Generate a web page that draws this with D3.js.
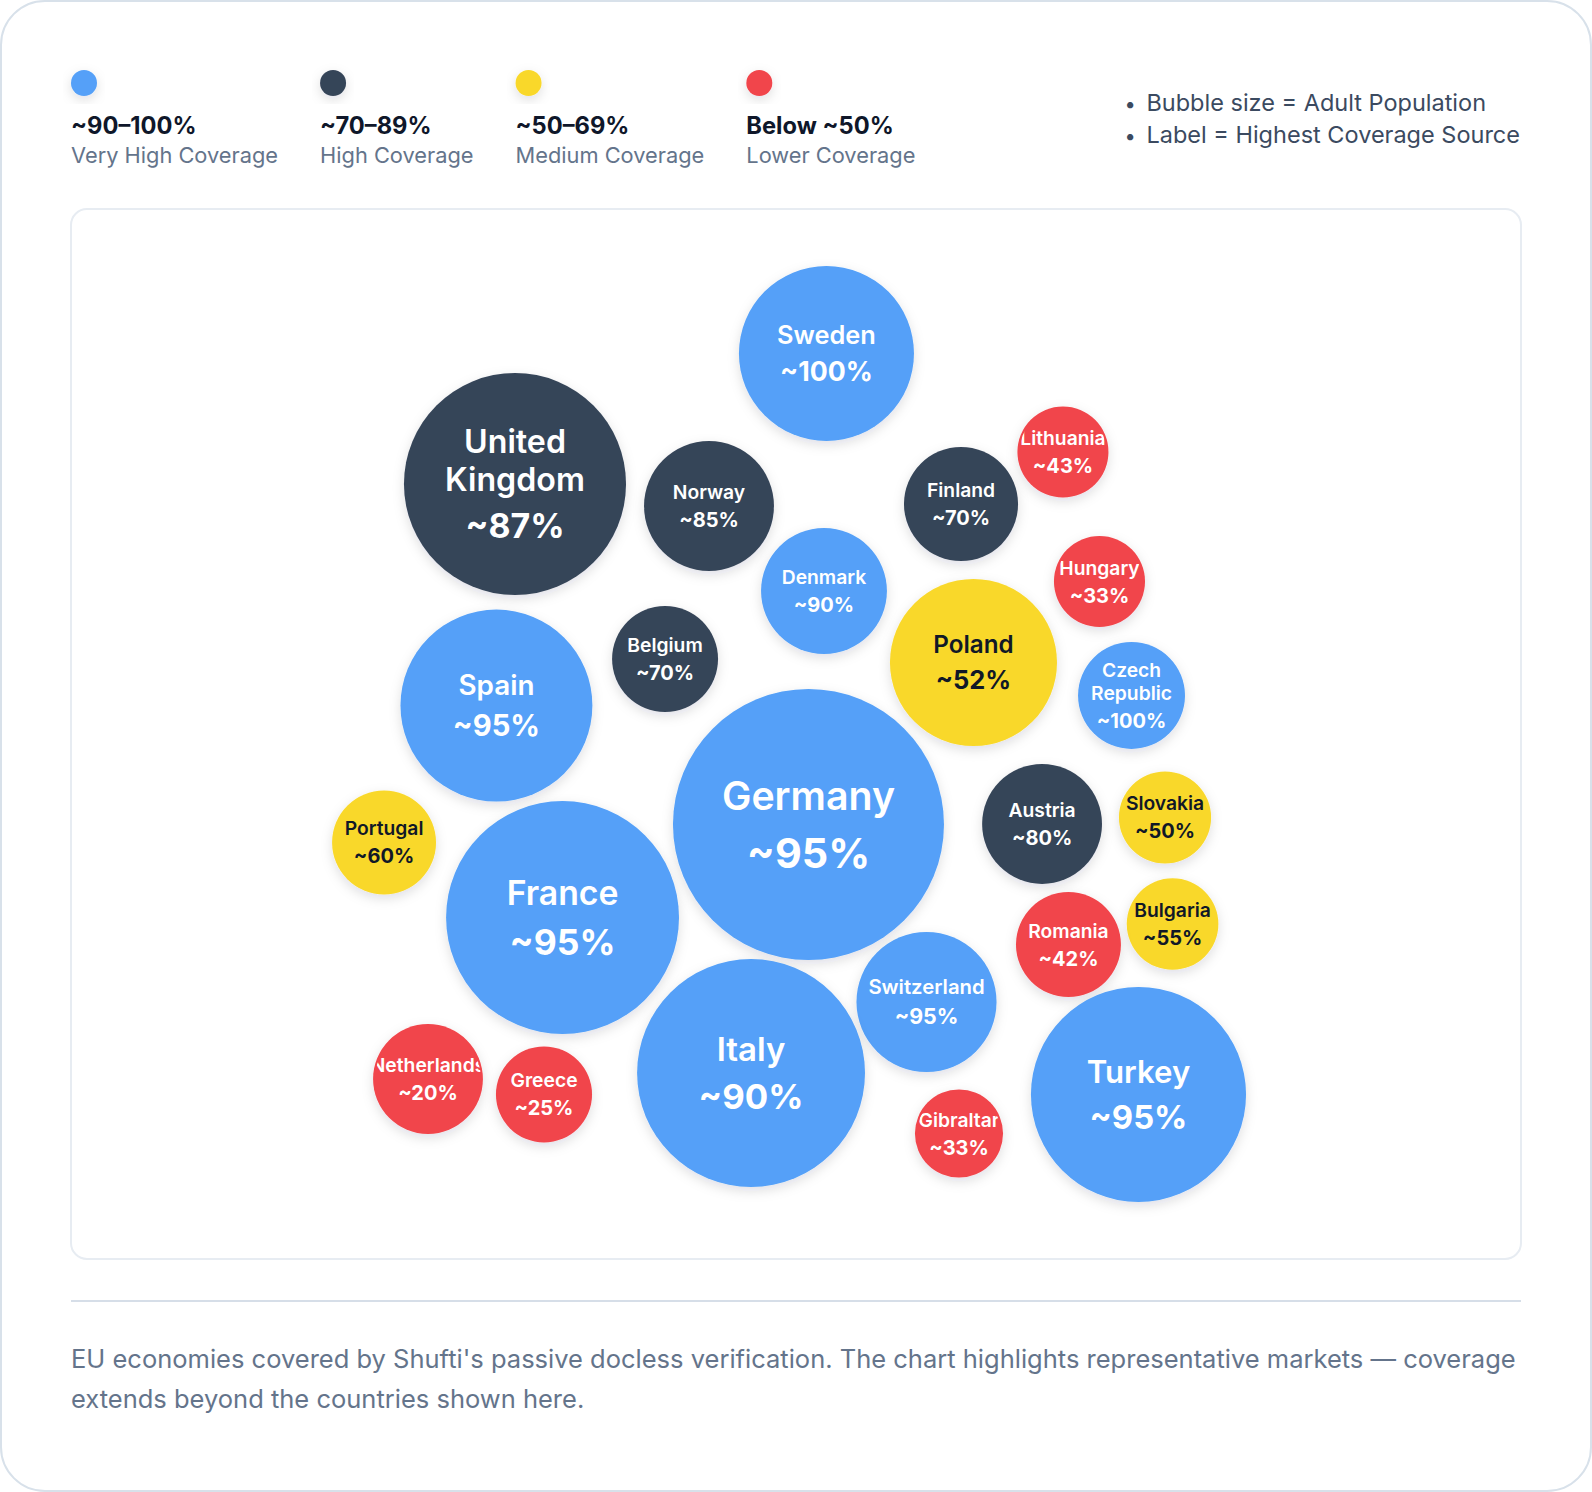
<!DOCTYPE html>
<html>
<head>
<meta charset="utf-8">
<script src="https://cdn.jsdelivr.net/npm/d3@7"></script>
<style>
  html, body { margin: 0; padding: 0; background: #ffffff; }
  svg { display: block; font-family: Inter, "Noto Sans", sans-serif; }
</style>
</head>
<body>
<svg id="chart" width="1592" height="1492"></svg>
<script>
// bubble data
const countries = ["Sweden", "United Kingdom", "Norway", "Denmark", "Finland", "Lithuania",
  "Hungary", "Poland", "Czech Republic", "Spain", "Belgium", "Germany", "Austria", "Slovakia",
  "Portugal", "France", "Bulgaria", "Romania", "Switzerland", "Italy", "Turkey",
  "Netherlands", "Greece", "Gibraltar"]
const coverage = [100, 87, 85, 90, 70, 43, 33, 52, 100, 95, 70, 95, 80, 50,
  60, 95, 55, 42, 95, 90, 95, 20, 25, 33]
// bubble size (adult population, as drawn)
const adultPop = [29.2, 47.0, 16.1, 15.1, 12.4, 7.9, 7.9, 26.6, 10.9, 35.1, 10.7, 70, 13.7, 8.1,
  10.3, 51.7, 8.0, 10.5, 18.7, 49.5, 44.1, 11.5, 8.8, 7.4]
// packed layout position, % of the plot panel
const posX = [52.10, 30.62, 44.00, 51.93, 61.38, 68.41, 70.93, 62.24, 73.14, 29.34, 40.97, 50.86,
  66.97, 75.45, 21.59, 33.90, 75.97, 68.79, 59.00, 46.90, 73.62, 24.62, 32.62, 61.24]
const posY = [13.76, 26.19, 28.29, 36.38, 28.10, 23.14, 35.48, 43.19, 46.33, 47.29, 42.86, 58.62,
  58.57, 57.95, 60.33, 67.48, 68.10, 70.05, 75.52, 82.29, 84.33, 82.86, 84.33, 88.05]

// legend
const tierRanges = ["~90–100%", "~70–89%", "~50–69%", "Below ~50%"]
const tierNames = ["Very High Coverage", "High Coverage", "Medium Coverage", "Lower Coverage"]
const tierColors = ["#54a0f8", "#364559", "#f9d82b", "#f1454b"]
const notes = ["Bubble size = Adult Population", "Label = Highest Coverage Source"]
const footer = "EU economies covered by Shufti's passive docless verification. The chart highlights representative markets — coverage extends beyond the countries shown here."

const W = 1592, H = 1492
const panel = {x: 71, y: 209, w: 1450, h: 1050}

const svg = d3.select("#chart")

const defs = svg.append("defs")
const shadow = defs.append("filter").attr("id", "shadow")
  .attr("x", "-30%").attr("y", "-30%").attr("width", "160%").attr("height", "160%")
shadow.append("feDropShadow")
  .attr("dx", 0).attr("dy", 4).attr("stdDeviation", 6)
  .attr("flood-color", "#0f172a").attr("flood-opacity", 0.13)

// card
svg.append("rect")
  .attr("x", 1).attr("y", 1).attr("width", W - 2).attr("height", H - 2)
  .attr("rx", 44)
  .attr("fill", "#ffffff").attr("stroke", "#d8e1ea").attr("stroke-width", 2)

// legend
var lx = 71
tierRanges.forEach(function(t, i) {
  const g = svg.append("g")
  g.append("circle")
    .attr("cx", lx + 13).attr("cy", 83).attr("r", 13)
    .attr("fill", tierColors[i]).attr("filter", "url(#shadow)")
  const t1 = g.append("text")
    .attr("x", lx).attr("y", 134)
    .attr("font-size", 23.7).attr("font-weight", 700).attr("fill", "#0f172a")
    .text(t)
  const t2 = g.append("text")
    .attr("x", lx).attr("y", 163)
    .attr("font-size", 21.8).attr("fill", "#64748b")
    .text(tierNames[i])
  const w = Math.max(t1.node().getComputedTextLength(), t2.node().getComputedTextLength())
  lx += w + 42
})

// notes on the right
const noteText = svg.append("g")
  .selectAll("text")
  .data(notes)
  .enter()
  .append("text")
  .attr("y", function(d, i) { return 111 + i * 32 })
  .attr("font-size", 23.5).attr("fill", "#3b4a60")
  .text(function(d) { return d })
var noteW = d3.max(noteText.nodes(), function(n) { return n.getComputedTextLength() })
noteText.attr("x", 1520 - noteW)
svg.append("g")
  .selectAll("text")
  .data(notes)
  .enter()
  .append("text")
  .attr("x", 1520 - noteW - 22)
  .attr("y", function(d, i) { return 111 + i * 32 })
  .attr("font-size", 20).attr("fill", "#3b4a60")
  .text("•")

// plot panel
svg.append("rect")
  .attr("x", panel.x).attr("y", panel.y).attr("width", panel.w).attr("height", panel.h)
  .attr("rx", 16)
  .attr("fill", "#ffffff").attr("stroke", "#e7ecf2").attr("stroke-width", 2)

const x = d3.scaleLinear().domain([0, 100]).range([panel.x, panel.x + panel.w])
const y = d3.scaleLinear().domain([0, 100]).range([panel.y, panel.y + panel.h])
const r = d3.scaleSqrt().domain([0, d3.max(adultPop)]).range([0, 135.5])
const color = d3.scaleThreshold().domain([50, 70, 90])
  .range([tierColors[3], tierColors[2], tierColors[1], tierColors[0]])

const data = d3.zip(countries, coverage, adultPop, posX, posY).map(function(d, i) {
  return {name: d[0], cov: d[1], pop: d[2], px: d[3], py: d[4], id: i}
})

const bubbles = svg.append("g")
  .selectAll("g")
  .data(data)
  .enter()
  .append("g")
  .attr("transform", function(d) { return "translate(" + x(d.px) + "," + y(d.py) + ")" })

bubbles.append("clipPath")
  .attr("id", function(d) { return "clip" + d.id })
  .append("circle")
  .attr("r", function(d) { return r(d.pop) - 2 })

bubbles.append("circle")
  .attr("r", function(d) { return r(d.pop) })
  .attr("fill", function(d) { return color(d.cov) })
  .attr("filter", "url(#shadow)")

bubbles.each(function(d) {
  const rad = r(d.pop)
  const nf = Math.max(19.3, rad * 0.29)
  const pf = Math.max(20, rad * 0.305)
  const names = d.name.split(" ")
  const ys = names.map(function(n, i) { return i * nf * 1.18 })
  const pctY = ys[ys.length - 1] + pf * 1.4
  const shift = -(-0.727 * nf + pctY) / 2
  const fill = d.cov >= 50 && d.cov < 70 ? "#111827" : "#ffffff"
  const g = d3.select(this).append("g").attr("clip-path", "url(#clip" + d.id + ")")
  names.forEach(function(n, i) {
    g.append("text")
      .attr("text-anchor", "middle")
      .attr("y", ys[i] + shift)
      .attr("font-size", nf).attr("font-weight", 600).attr("fill", fill)
      .text(n)
  })
  g.append("text")
    .attr("text-anchor", "middle")
    .attr("y", pctY + shift)
    .attr("font-size", pf).attr("font-weight", 700).attr("fill", fill)
    .text("~" + d.cov + "%")
})

// divider + footer note
svg.append("line")
  .attr("x1", 71).attr("x2", 1521).attr("y1", 1301).attr("y2", 1301)
  .attr("stroke", "#d6dee8").attr("stroke-width", 2)

const foot = svg.append("text")
  .attr("x", 71).attr("y", 1368)
  .attr("font-size", 25.5).attr("fill", "#64748b")
var words = footer.split(" ")
var line = []
var tsp = foot.append("tspan").attr("x", 71).attr("dy", 0)
words.forEach(function(w) {
  line.push(w)
  tsp.text(line.join(" "))
  if (tsp.node().getComputedTextLength() > 1456 && line.length > 1) {
    line.pop()
    tsp.text(line.join(" "))
    line = [w]
    tsp = foot.append("tspan").attr("x", 71).attr("dy", 40).text(w)
  }
})
</script>
</body>
</html>
